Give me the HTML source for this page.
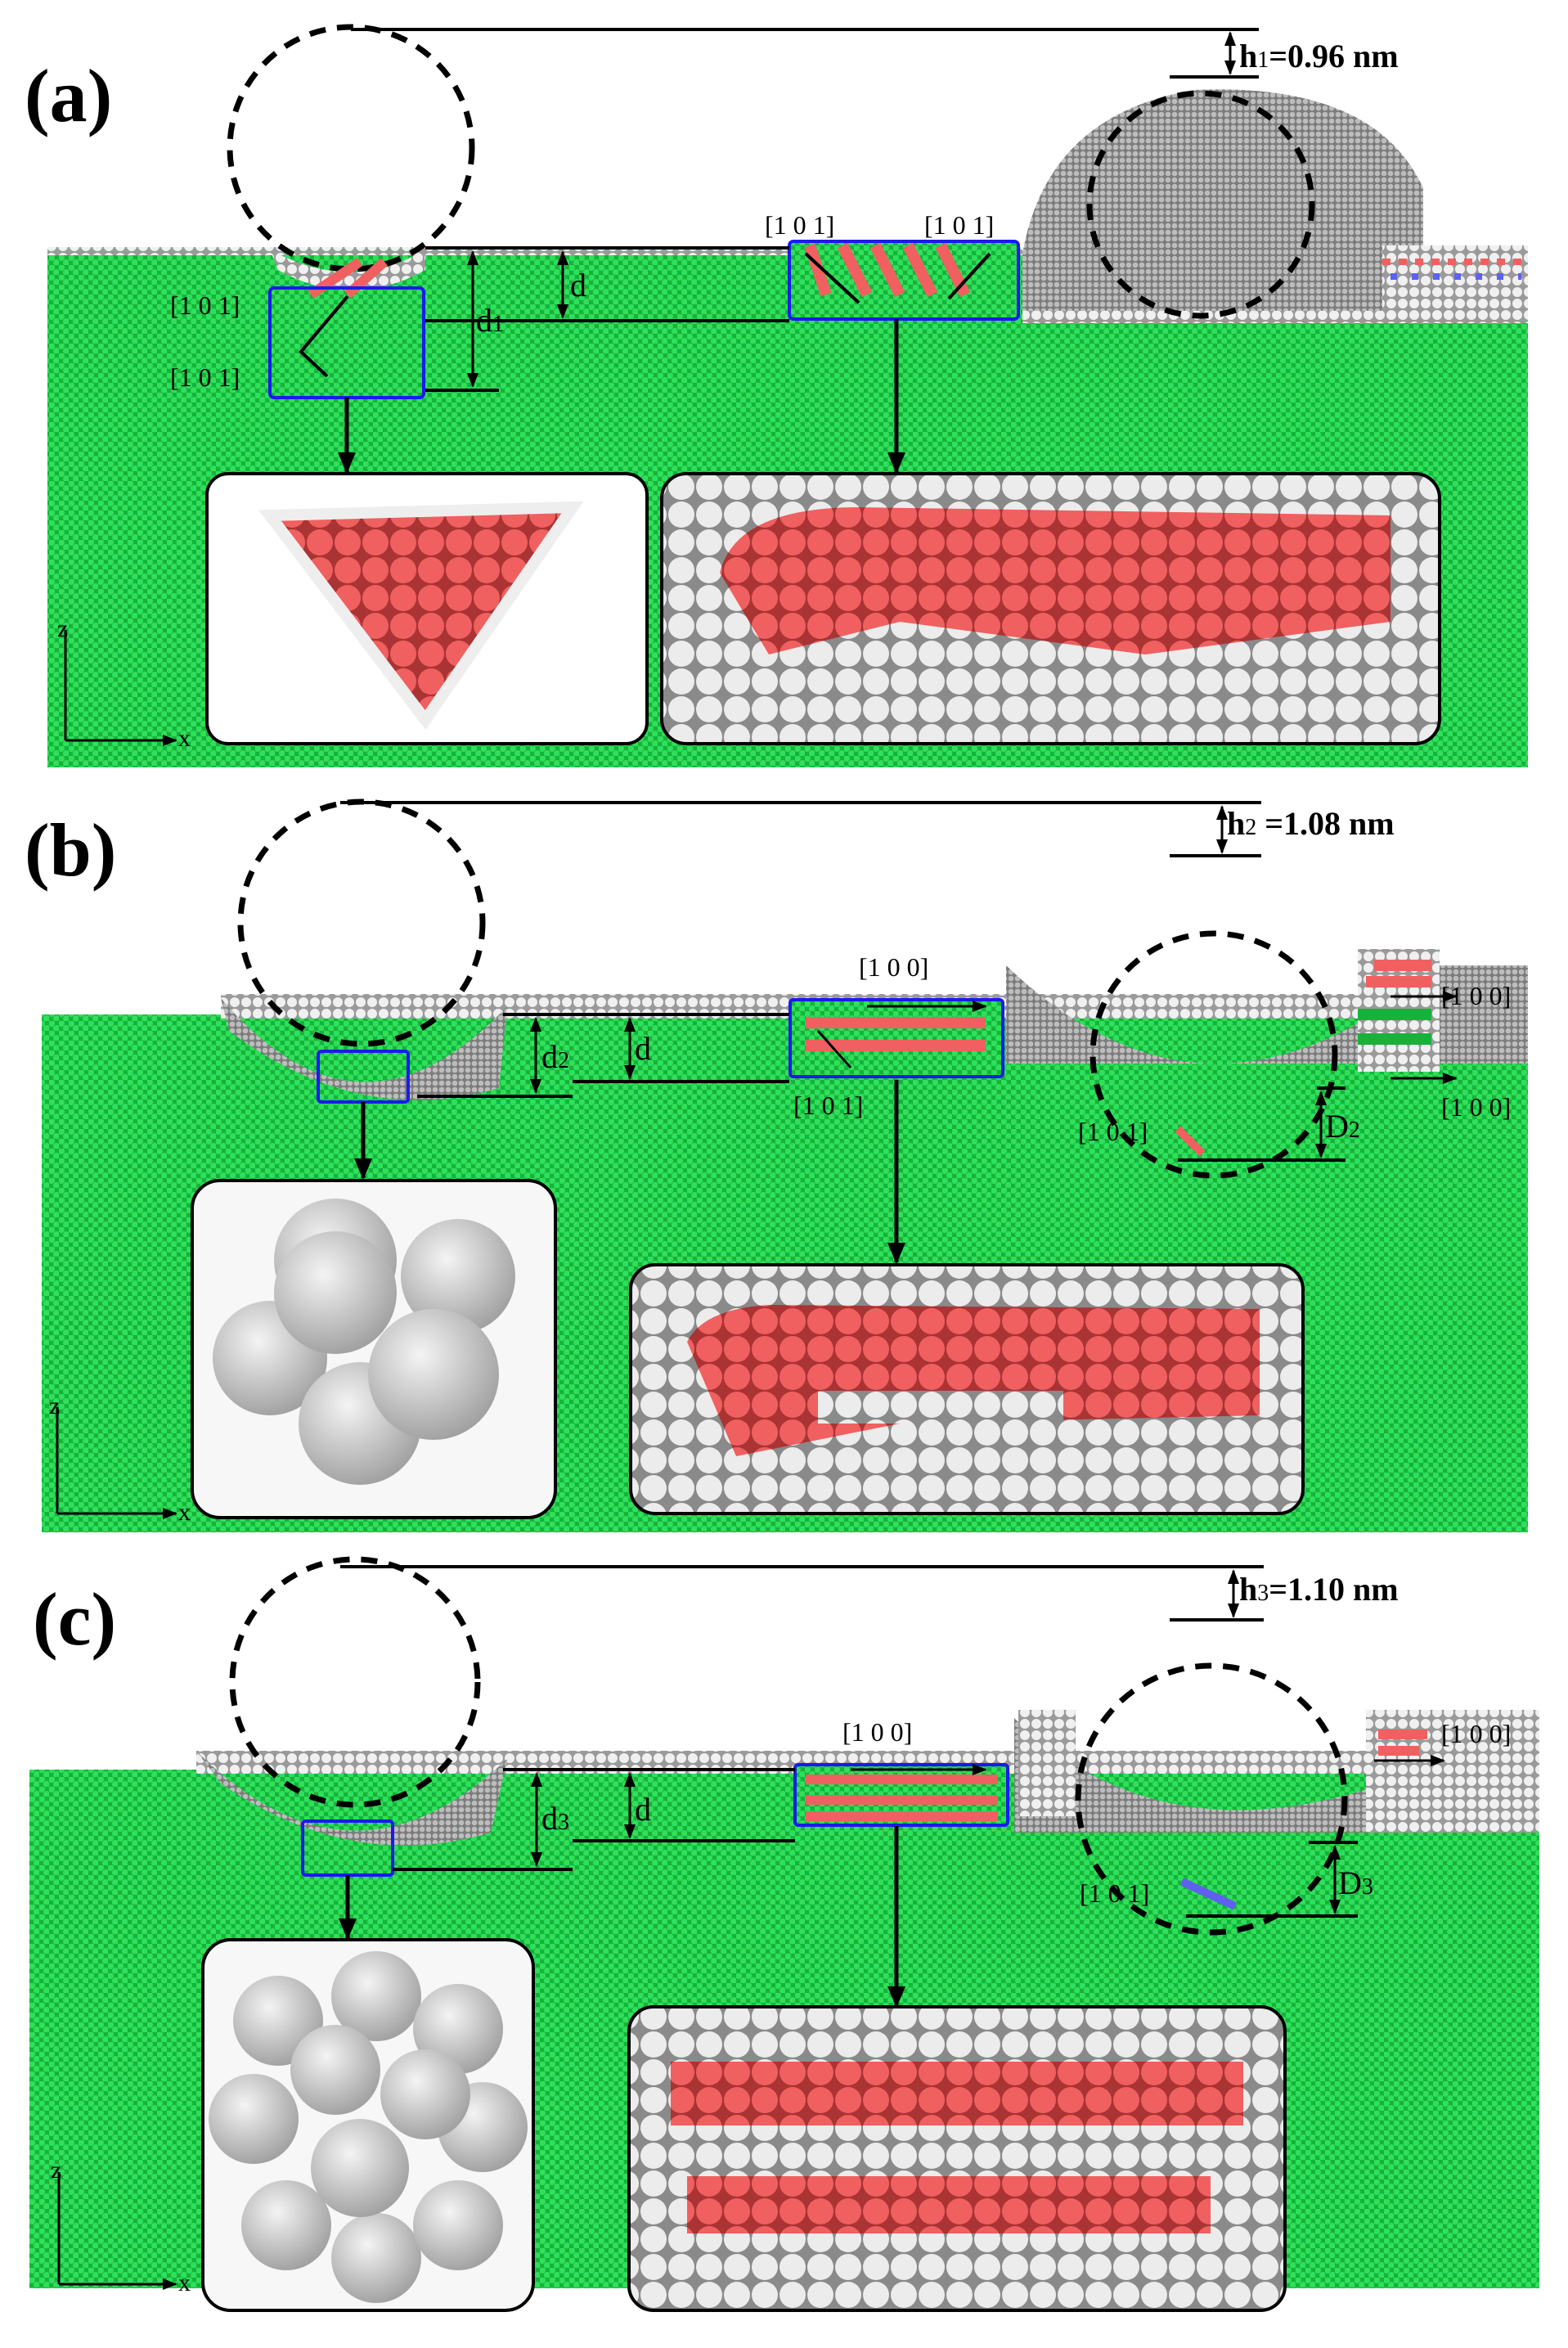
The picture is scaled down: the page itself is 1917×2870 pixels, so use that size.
<!DOCTYPE html>
<html><head><meta charset="utf-8"><style>
html,body{margin:0;padding:0;background:#fff}
svg{display:block}
text{font-family:"Liberation Serif",serif}
</style></head><body>
<svg width="1917" height="2870" viewBox="0 0 1917 2870" xmlns="http://www.w3.org/2000/svg">
<defs>
<pattern id="g" width="12" height="12" patternUnits="userSpaceOnUse">
<rect width="12" height="12" fill="#17b23c"/>
<circle cx="3" cy="3" r="4" fill="#2ee05a"/><circle cx="9" cy="9" r="4" fill="#2ee05a"/>
</pattern>
<pattern id="w" width="14" height="14" patternUnits="userSpaceOnUse">
<rect width="14" height="14" fill="#9a9a9a"/>
<circle cx="7" cy="7" r="6" fill="#f0f0f0"/>
</pattern>
<pattern id="gr" width="8" height="8" patternUnits="userSpaceOnUse">
<rect width="8" height="8" fill="#7c7c7c"/><circle cx="4" cy="4" r="3.3" fill="#bdbdbd"/>
</pattern>
<pattern id="ws" width="34" height="34" patternUnits="userSpaceOnUse">
<rect width="34" height="34" fill="#8a8a8a"/><circle cx="17" cy="17" r="16" fill="#ececec"/>
</pattern>
<pattern id="rs" width="34" height="34" patternUnits="userSpaceOnUse">
<rect width="34" height="34" fill="#a33"/><circle cx="17" cy="17" r="16" fill="#f06060"/>
</pattern>
<radialGradient id="sp" cx="40%" cy="35%" r="70%"><stop offset="0" stop-color="#f4f4f4"/><stop offset="1" stop-color="#9d9d9d"/></radialGradient>
<marker id="ar" markerUnits="userSpaceOnUse" markerWidth="18" markerHeight="18" refX="16" refY="9" orient="auto-start-reverse"><path d="M0,2 L18,9 L0,16 z" fill="#000"/></marker>
<marker id="big" markerUnits="userSpaceOnUse" markerWidth="26" markerHeight="26" refX="24" refY="13" orient="auto"><path d="M0,2 L26,13 L0,24 z" fill="#000"/></marker>
</defs>

<!-- ===== PANEL A ===== -->
<rect x="58" y="310" width="1810" height="628" fill="url(#g)"/>
<rect x="58" y="302" width="1210" height="10" fill="url(#w)"/>
<path d="M1250 310 Q1280 140 1460 110 Q1680 100 1740 230 L1740 395 L1250 395 Z" fill="url(#gr)"/>
<rect x="1250" y="380" width="618" height="15" fill="url(#w)"/>
<rect x="1690" y="300" width="178" height="95" fill="url(#w)"/>
<path d="M330 305 Q430 360 520 305 L520 330 Q430 380 340 330Z" fill="url(#w)"/>
<rect x="965" y="295" width="280" height="95" fill="url(#g)"/>
<path d="M990 300 L1010 360 M1030 300 L1060 360 M1070 300 L1100 360 M1110 300 L1140 360 M1150 300 L1180 360" stroke="#f06060" stroke-width="14"/>
<path d="M1690 320 h170" stroke="#f06060" stroke-width="8" stroke-dasharray="10 10"/>
<path d="M1700 338 h160" stroke="#6060f0" stroke-width="8" stroke-dasharray="8 18"/>
<circle cx="429" cy="181" r="148" fill="none" stroke="#000" stroke-width="7" stroke-dasharray="20 14"/>
<circle cx="1468" cy="250" r="136" fill="none" stroke="#000" stroke-width="7" stroke-dasharray="20 14"/>
<path d="M380 360 L440 320 M425 360 L470 320" stroke="#f06060" stroke-width="12"/>
<rect x="330" y="352" width="188" height="134" fill="none" stroke="#1a1aee" stroke-width="4" rx="5"/>
<rect x="965" y="295" width="280" height="95" fill="none" stroke="#1a1aee" stroke-width="4" rx="5"/>
<path d="M425 362 L368 430 L400 460" stroke="#000" stroke-width="4" fill="none"/>
<path d="M985 310 L1050 370 M1210 310 L1160 365" stroke="#000" stroke-width="4"/>
<line x1="429" y1="36" x2="1539" y2="36" stroke="#000" stroke-width="4"/>
<line x1="1430" y1="94" x2="1539" y2="94" stroke="#000" stroke-width="4"/>
<line x1="1504" y1="40" x2="1504" y2="90" stroke="#000" stroke-width="3" marker-start="url(#ar)" marker-end="url(#ar)"/>
<text x="1515" y="82" font-size="40" font-weight="bold">h<tspan font-size="28" font-weight="normal">1</tspan>=0.96 nm</text>
<line x1="520" y1="303" x2="965" y2="303" stroke="#000" stroke-width="4"/>
<line x1="520" y1="392" x2="965" y2="392" stroke="#000" stroke-width="4"/>
<line x1="520" y1="477" x2="610" y2="477" stroke="#000" stroke-width="4"/>
<line x1="578" y1="308" x2="578" y2="472" stroke="#000" stroke-width="3" marker-start="url(#ar)" marker-end="url(#ar)"/>
<line x1="688" y1="308" x2="688" y2="388" stroke="#000" stroke-width="3" marker-start="url(#ar)" marker-end="url(#ar)"/>
<text x="582" y="405" font-size="40">d<tspan font-size="28">1</tspan></text>
<text x="697" y="362" font-size="40">d</text>
<text x="208" y="384" font-size="32">[1 0 1]</text>
<text x="208" y="472" font-size="32">[1 0 1]</text>
<text x="935" y="286" font-size="32">[1 0 1]</text>
<text x="1130" y="286" font-size="32">[1 0 1]</text>
<text x="30" y="148" font-size="92" font-weight="bold">(a)</text>
<line x1="424" y1="486" x2="424" y2="577" stroke="#000" stroke-width="5" marker-end="url(#big)"/>
<line x1="1096" y1="390" x2="1096" y2="577" stroke="#000" stroke-width="5" marker-end="url(#big)"/>
<rect x="253" y="579" width="538" height="330" rx="26" fill="#fff" stroke="#000" stroke-width="4"/>
<path d="M330 630 L700 620 L520 880 Z" fill="url(#rs)" stroke="#eee" stroke-width="14"/>
<rect x="809" y="579" width="951" height="330" rx="30" fill="url(#ws)" stroke="#000" stroke-width="4"/>
<path d="M880 700 Q900 620 1050 620 L1700 630 L1700 760 L1400 800 L1100 760 L940 800 Z" fill="url(#rs)"/>
<line x1="80" y1="770" x2="80" y2="905" stroke="#000" stroke-width="3"/><line x1="80" y1="905" x2="215" y2="905" stroke="#000" stroke-width="3" marker-end="url(#ar)"/>
<text x="70" y="778" font-size="30" font-family="Liberation Sans">z</text><text x="218" y="912" font-size="30" font-family="Liberation Sans">x</text>

<!-- ===== PANEL B ===== -->
<rect x="51" y="1240" width="1817" height="633" fill="url(#g)"/>
<rect x="270" y="1215" width="1598" height="30" fill="url(#w)"/>
<path d="M270 1220 Q440 1420 620 1230 L610 1330 Q440 1380 280 1260Z" fill="url(#gr)"/>
<path d="M1230 1180 Q1480 1420 1760 1180 L1868 1180 L1868 1300 L1230 1300Z" fill="url(#gr)"/>
<path d="M1660 1160 L1760 1160 L1760 1310 L1660 1310Z" fill="url(#w)"/>
<path d="M1680 1180 h70 M1670 1200 h80" stroke="#f06060" stroke-width="14"/>
<path d="M1660 1240 h90 M1660 1270 h90" stroke="#17b23c" stroke-width="14"/>
<rect x="966" y="1222" width="260" height="94" fill="url(#g)"/>
<path d="M985 1250 h220 M985 1278 h220" stroke="#f06060" stroke-width="14"/>
<circle cx="442" cy="1128" r="148" fill="none" stroke="#000" stroke-width="7" stroke-dasharray="20 14"/>
<circle cx="1484" cy="1289" r="148" fill="none" stroke="#000" stroke-width="7" stroke-dasharray="20 14"/>
<rect x="389" y="1285" width="110" height="62" fill="none" stroke="#1a1aee" stroke-width="4" rx="4"/>
<rect x="966" y="1222" width="260" height="94" fill="none" stroke="#1a1aee" stroke-width="4" rx="4"/>
<line x1="1060" y1="1230" x2="1205" y2="1230" stroke="#000" stroke-width="3" marker-end="url(#ar)"/>
<line x1="1040" y1="1305" x2="1000" y2="1260" stroke="#000" stroke-width="3"/>
<line x1="1700" y1="1218" x2="1780" y2="1218" stroke="#000" stroke-width="3" marker-end="url(#ar)"/>
<line x1="1700" y1="1318" x2="1780" y2="1318" stroke="#000" stroke-width="3" marker-end="url(#ar)"/>
<line x1="416" y1="981" x2="1542" y2="981" stroke="#000" stroke-width="4"/>
<line x1="1430" y1="1046" x2="1542" y2="1046" stroke="#000" stroke-width="4"/>
<line x1="1494" y1="986" x2="1494" y2="1042" stroke="#000" stroke-width="3" marker-start="url(#ar)" marker-end="url(#ar)"/>
<text x="1500" y="1020" font-size="40" font-weight="bold">h<tspan font-size="28" font-weight="normal">2</tspan> =1.08 nm</text>
<line x1="615" y1="1240" x2="965" y2="1240" stroke="#000" stroke-width="4"/>
<line x1="510" y1="1340" x2="700" y2="1340" stroke="#000" stroke-width="4"/>
<line x1="700" y1="1322" x2="965" y2="1322" stroke="#000" stroke-width="4"/>
<line x1="655" y1="1245" x2="655" y2="1335" stroke="#000" stroke-width="3" marker-start="url(#ar)" marker-end="url(#ar)"/>
<line x1="770" y1="1245" x2="770" y2="1318" stroke="#000" stroke-width="3" marker-start="url(#ar)" marker-end="url(#ar)"/>
<text x="662" y="1305" font-size="40">d<tspan font-size="28">2</tspan></text>
<text x="776" y="1295" font-size="40">d</text>
<line x1="1440" y1="1418" x2="1645" y2="1418" stroke="#000" stroke-width="4"/>
<line x1="1610" y1="1330" x2="1645" y2="1330" stroke="#000" stroke-width="4"/>
<line x1="1615" y1="1335" x2="1615" y2="1414" stroke="#000" stroke-width="3" marker-start="url(#ar)" marker-end="url(#ar)"/>
<text x="1620" y="1390" font-size="40">D<tspan font-size="28">2</tspan></text>
<path d="M1440 1380 L1470 1410" stroke="#f06060" stroke-width="10"/>
<text x="1050" y="1193" font-size="32">[1 0 0]</text>
<text x="970" y="1362" font-size="32">[1 0 1]</text>
<text x="1318" y="1394" font-size="32">[1 0 1]</text>
<text x="1762" y="1228" font-size="32">[1 0 0]</text>
<text x="1762" y="1364" font-size="32">[1 0 0]</text>
<text x="30" y="1070" font-size="92" font-weight="bold">(b)</text>
<line x1="444" y1="1347" x2="444" y2="1440" stroke="#000" stroke-width="5" marker-end="url(#big)"/>
<line x1="1096" y1="1320" x2="1096" y2="1543" stroke="#000" stroke-width="5" marker-end="url(#big)"/>
<rect x="235" y="1443" width="444" height="412" rx="34" fill="#f7f7f7" stroke="#000" stroke-width="4"/>
<circle cx="410" cy="1540" r="75" fill="url(#sp)"/><circle cx="560" cy="1560" r="70" fill="url(#sp)"/>
<circle cx="330" cy="1660" r="70" fill="url(#sp)"/><circle cx="440" cy="1740" r="75" fill="url(#sp)"/>
<circle cx="530" cy="1680" r="80" fill="url(#sp)"/><circle cx="410" cy="1580" r="75" fill="url(#sp)"/>
<rect x="771" y="1546" width="822" height="304" rx="30" fill="url(#ws)" stroke="#000" stroke-width="4"/>
<path d="M840 1640 Q860 1600 940 1595 L1540 1600 L1540 1730 L1100 1740 L1000 1760 L900 1780 Z" fill="url(#rs)"/>
<rect x="1000" y="1700" width="300" height="40" fill="url(#ws)"/>
<line x1="70" y1="1720" x2="70" y2="1850" stroke="#000" stroke-width="3"/><line x1="70" y1="1850" x2="215" y2="1850" stroke="#000" stroke-width="3" marker-end="url(#ar)"/>
<text x="60" y="1728" font-size="30" font-family="Liberation Sans">z</text><text x="218" y="1858" font-size="30" font-family="Liberation Sans">x</text>

<!-- ===== PANEL C ===== -->
<rect x="36" y="2163" width="1846" height="634" fill="url(#g)"/>
<rect x="240" y="2140" width="1642" height="28" fill="url(#w)"/>
<path d="M240 2140 Q430 2330 620 2150 L600 2240 Q430 2290 270 2180Z" fill="url(#gr)"/>
<path d="M1240 2100 Q1480 2330 1882 2090 L1882 2240 L1240 2240Z" fill="url(#gr)"/>
<rect x="1245" y="2090" width="70" height="130" fill="url(#w)"/>
<rect x="1670" y="2090" width="212" height="150" fill="url(#w)"/>
<path d="M1685 2120 h60 M1685 2140 h50" stroke="#f06060" stroke-width="12"/>
<rect x="972" y="2157" width="260" height="74" fill="url(#g)"/>
<path d="M985 2175 h235 M985 2200 h235 M985 2220 h235" stroke="#f06060" stroke-width="12"/>
<circle cx="434" cy="2056" r="150" fill="none" stroke="#000" stroke-width="7" stroke-dasharray="20 14"/>
<circle cx="1481" cy="2199" r="163" fill="none" stroke="#000" stroke-width="7" stroke-dasharray="20 14"/>
<rect x="370" y="2226" width="110" height="66" fill="none" stroke="#1a1aee" stroke-width="4" rx="4"/>
<rect x="972" y="2157" width="260" height="74" fill="none" stroke="#1a1aee" stroke-width="4" rx="4"/>
<line x1="1040" y1="2163" x2="1205" y2="2163" stroke="#000" stroke-width="3" marker-end="url(#ar)"/>
<line x1="1680" y1="2152" x2="1765" y2="2152" stroke="#000" stroke-width="3" marker-end="url(#ar)"/>
<line x1="416" y1="1915" x2="1545" y2="1915" stroke="#000" stroke-width="4"/>
<line x1="1430" y1="1980" x2="1545" y2="1980" stroke="#000" stroke-width="4"/>
<line x1="1508" y1="1920" x2="1508" y2="1976" stroke="#000" stroke-width="3" marker-start="url(#ar)" marker-end="url(#ar)"/>
<text x="1515" y="1956" font-size="40" font-weight="bold">h<tspan font-size="28" font-weight="normal">3</tspan>=1.10 nm</text>
<line x1="615" y1="2163" x2="972" y2="2163" stroke="#000" stroke-width="4"/>
<line x1="480" y1="2285" x2="700" y2="2285" stroke="#000" stroke-width="4"/>
<line x1="700" y1="2250" x2="972" y2="2250" stroke="#000" stroke-width="4"/>
<line x1="656" y1="2168" x2="656" y2="2280" stroke="#000" stroke-width="3" marker-start="url(#ar)" marker-end="url(#ar)"/>
<line x1="770" y1="2168" x2="770" y2="2246" stroke="#000" stroke-width="3" marker-start="url(#ar)" marker-end="url(#ar)"/>
<text x="662" y="2236" font-size="40">d<tspan font-size="28">3</tspan></text>
<text x="776" y="2225" font-size="40">d</text>
<line x1="1450" y1="2342" x2="1660" y2="2342" stroke="#000" stroke-width="4"/>
<line x1="1600" y1="2252" x2="1660" y2="2252" stroke="#000" stroke-width="4"/>
<line x1="1632" y1="2257" x2="1632" y2="2338" stroke="#000" stroke-width="3" marker-start="url(#ar)" marker-end="url(#ar)"/>
<text x="1636" y="2315" font-size="40">D<tspan font-size="28">3</tspan></text>
<path d="M1445 2300 L1510 2330" stroke="#6060f0" stroke-width="10"/>
<text x="1030" y="2128" font-size="32">[1 0 0]</text>
<text x="1320" y="2325" font-size="32">[1 0 1]</text>
<text x="1762" y="2130" font-size="32">[1 0 0]</text>
<text x="40" y="2010" font-size="92" font-weight="bold">(c)</text>
<line x1="425" y1="2292" x2="425" y2="2369" stroke="#000" stroke-width="5" marker-end="url(#big)"/>
<line x1="1096" y1="2232" x2="1096" y2="2452" stroke="#000" stroke-width="5" marker-end="url(#big)"/>
<rect x="248" y="2371" width="404" height="453" rx="34" fill="#f7f7f7" stroke="#000" stroke-width="4"/>
<circle cx="340" cy="2470" r="55" fill="url(#sp)"/><circle cx="460" cy="2440" r="55" fill="url(#sp)"/><circle cx="560" cy="2480" r="55" fill="url(#sp)"/>
<circle cx="310" cy="2590" r="55" fill="url(#sp)"/><circle cx="590" cy="2600" r="55" fill="url(#sp)"/>
<circle cx="350" cy="2720" r="55" fill="url(#sp)"/><circle cx="460" cy="2760" r="55" fill="url(#sp)"/><circle cx="560" cy="2720" r="55" fill="url(#sp)"/>
<circle cx="410" cy="2530" r="55" fill="url(#sp)"/><circle cx="520" cy="2560" r="55" fill="url(#sp)"/>
<circle cx="440" cy="2650" r="60" fill="url(#sp)"/>
<rect x="769" y="2453" width="802" height="371" rx="30" fill="url(#ws)" stroke="#000" stroke-width="4"/>
<rect x="820" y="2520" width="700" height="78" fill="url(#rs)"/>
<rect x="840" y="2660" width="640" height="70" fill="url(#rs)"/>
<line x1="72" y1="2655" x2="72" y2="2792" stroke="#000" stroke-width="3"/><line x1="72" y1="2792" x2="215" y2="2792" stroke="#000" stroke-width="3" marker-end="url(#ar)"/>
<text x="62" y="2662" font-size="30" font-family="Liberation Sans">z</text><text x="218" y="2800" font-size="30" font-family="Liberation Sans">x</text>
</svg>
</body></html>
